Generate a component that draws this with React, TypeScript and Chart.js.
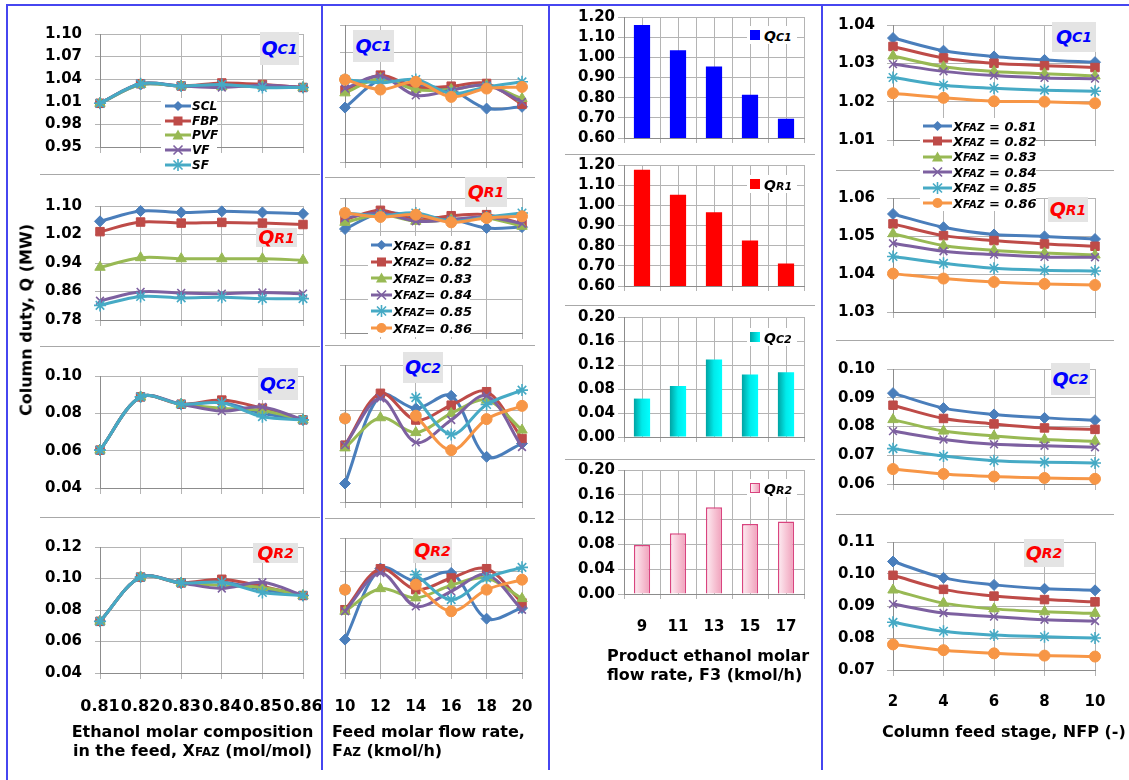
import React, { useEffect, useRef } from 'react';
import { Chart, registerables } from 'chart.js';
Chart.register(...registerables);

const FONT = '"DejaVu Sans", "Liberation Sans", sans-serif';
const GRID = '#b4b4b4';
const AXIS = '#8c8c8c';

// ---------- categories ----------
const xfazLabels = ['0.81', '0.82', '0.83', '0.84', '0.85', '0.86'];
const fazLabels = ['10', '12', '14', '16', '18', '20'];
const f3Labels = ['9', '11', '13', '15', '17'];
const nfpLabels = ['2', '4', '6', '8', '10'];

const methodNames = ['SCL', 'FBP', 'PVF', 'VF', 'SF'];
const xfazNames = ['0.81', '0.82', '0.83', '0.84', '0.85', '0.86'];

// ---------- column 1 : vs feed composition (SCL, FBP, PVF, VF, SF) ----------
const xfazQC1 = [
  [1.008, 1.033, 1.031, 1.032, 1.031, 1.029],
  [1.008, 1.034, 1.031, 1.035, 1.033, 1.029],
  [1.008, 1.033, 1.031, 1.030, 1.031, 1.029],
  [1.008, 1.034, 1.031, 1.029, 1.032, 1.029],
  [1.008, 1.034, 1.031, 1.033, 1.029, 1.029],
];
const xfazQR1 = [
  [1.057, 1.086, 1.082, 1.085, 1.082, 1.078],
  [1.028, 1.055, 1.052, 1.054, 1.052, 1.048],
  [0.928, 0.955, 0.952, 0.952, 0.952, 0.948],
  [0.834, 0.859, 0.856, 0.854, 0.857, 0.854],
  [0.821, 0.846, 0.842, 0.844, 0.840, 0.840],
];
const xfazQC2 = [
  [0.0603, 0.0888, 0.0849, 0.0858, 0.0800, 0.0765],
  [0.0603, 0.0888, 0.0849, 0.0871, 0.0827, 0.0765],
  [0.0603, 0.0888, 0.0849, 0.0827, 0.0815, 0.0765],
  [0.0603, 0.0888, 0.0849, 0.0812, 0.0834, 0.0765],
  [0.0603, 0.0888, 0.0849, 0.0856, 0.0782, 0.0765],
];
const xfazQR2 = [
  [0.0728, 0.1009, 0.0972, 0.0978, 0.0930, 0.0892],
  [0.0728, 0.1009, 0.0972, 0.0995, 0.0950, 0.0892],
  [0.0728, 0.1009, 0.0972, 0.0956, 0.0943, 0.0892],
  [0.0728, 0.1009, 0.0972, 0.0937, 0.0976, 0.0892],
  [0.0728, 0.1009, 0.0972, 0.0976, 0.0911, 0.0892],
];

// ---------- column 2 : vs feed flow rate (XFAZ = 0.81 ... 0.86) ----------
const fazQC1 = [
  [1.0096, 1.0396, 1.034, 1.029, 1.0085, 1.0104],
  [1.0286, 1.0451, 1.0316, 1.033, 1.036, 1.0133],
  [1.0257, 1.0414, 1.0293, 1.0293, 1.034, 1.0195],
  [1.0305, 1.044, 1.023, 1.0286, 1.034, 1.0158],
  [1.0403, 1.0367, 1.0403, 1.0249, 1.0322, 1.0378],
  [1.0403, 1.0293, 1.0378, 1.0213, 1.0304, 1.0322],
];
const fazQR1 = [
  [1.0265, 1.0645, 1.0566, 1.050, 1.0289, 1.031],
  [1.0487, 1.0708, 1.0487, 1.058, 1.0605, 1.039],
  [1.0423, 1.0605, 1.045, 1.0487, 1.0526, 1.033],
  [1.0526, 1.0645, 1.045, 1.0487, 1.055, 1.039],
  [1.0645, 1.058, 1.0645, 1.045, 1.055, 1.0645],
  [1.0645, 1.055, 1.0605, 1.0423, 1.0526, 1.0566],
];
const fazQC2 = [
  [0.0481, 0.0868, 0.0810, 0.0865, 0.0598, 0.0656],
  [0.0649, 0.0876, 0.0759, 0.0824, 0.0883, 0.0678],
  [0.0637, 0.0769, 0.0704, 0.0788, 0.0846, 0.0715],
  [0.0649, 0.0854, 0.0661, 0.0759, 0.0865, 0.0641],
  [0.0766, null, 0.0857, 0.0696, 0.0827, 0.0890],
  [0.0766, null, 0.0778, 0.0627, 0.0763, 0.0821],
];
const fazQR2 = [
  [0.0598, 0.1019, 0.0943, 0.0993, 0.0722, 0.0785],
  [0.0775, 0.1018, 0.0894, 0.0963, 0.1018, 0.0815],
  [0.0766, 0.0900, 0.0845, 0.0920, 0.0963, 0.0841],
  [0.0766, 0.0993, 0.0795, 0.0884, 0.0983, 0.0775],
  [0.0894, null, 0.0983, 0.0835, 0.0963, 0.1026],
  [0.0894, null, 0.0924, 0.0766, 0.0894, 0.0953],
];

// ---------- column 3 : vs product flow rate (bars) ----------
const f3QC1 = [1.16, 1.035, 0.955, 0.814, 0.696];
const f3QR1 = [1.176, 1.053, 0.966, 0.826, 0.712];
const f3QC2 = [0.064, 0.085, 0.129, 0.104, 0.108];
const f3QR2 = [0.079, 0.098, 0.140, 0.113, 0.117];

// ---------- column 4 : vs feed stage (XFAZ = 0.81 ... 0.86) ----------
const nfpQC1 = [
  [1.0366, 1.0333, 1.0318, 1.0309, 1.0303],
  [1.0344, 1.0314, 1.0300, 1.0294, 1.0289],
  [1.0319, 1.0291, 1.0279, 1.0273, 1.0267],
  [1.0298, 1.0279, 1.0268, 1.0262, 1.0260],
  [1.0263, 1.0243, 1.0235, 1.0230, 1.0227],
  [1.0222, 1.0210, 1.0201, 1.0200, 1.0196],
];
const nfpQR1 = [
  [1.0558, 1.0523, 1.0504, 1.0499, 1.0492],
  [1.0532, 1.0501, 1.0488, 1.0479, 1.0473],
  [1.0506, 1.0475, 1.0462, 1.0455, 1.0450],
  [1.0481, 1.0460, 1.0451, 1.0445, 1.0444],
  [1.0446, 1.0428, 1.0415, 1.0410, 1.0408],
  [1.0401, 1.0388, 1.0379, 1.0374, 1.0371],
];
const nfpQC2 = [
  [0.0916, 0.0864, 0.0842, 0.0830, 0.0822],
  [0.0874, 0.0828, 0.0809, 0.0795, 0.0790],
  [0.0824, 0.0784, 0.0767, 0.0755, 0.0749],
  [0.0784, 0.0755, 0.0738, 0.0733, 0.0728],
  [0.0723, 0.0697, 0.0681, 0.0676, 0.0673],
  [0.0652, 0.0635, 0.0626, 0.0621, 0.0618],
];
const nfpQR2 = [
  [0.1039, 0.0988, 0.0966, 0.0954, 0.0949],
  [0.0996, 0.0952, 0.0931, 0.0920, 0.0913],
  [0.0950, 0.0909, 0.0891, 0.0882, 0.0877],
  [0.0906, 0.0878, 0.0867, 0.0857, 0.0853],
  [0.0849, 0.0821, 0.0809, 0.0804, 0.0800],
  [0.0780, 0.0762, 0.0752, 0.0745, 0.0742],
];

// ---------- styles ----------
const seriesColors = ['#4a7ebb', '#be4b48', '#98b954', '#7d60a0', '#46aac5', '#f79646'];
const seriesMarkers = ['rectRot', 'rect', 'triangle', 'crossRot', 'star', 'circle'];
const markerRadius = [5.5, 6, 6, 5.5, 6, 5.5];

type Num = number | null;
type Box = [number, number, number, number];

const tickFont = (size: number) => ({ family: FONT, size, weight: 'bold' as const });

function makeDatasets(series: Num[][]) {
  return series.map((d, i) => ({
    data: d,
    borderColor: seriesColors[i],
    backgroundColor: seriesColors[i],
    pointBackgroundColor: seriesColors[i],
    pointBorderColor: seriesColors[i],
    pointStyle: seriesMarkers[i],
    pointRadius: markerRadius[i],
    pointBorderWidth: i === 3 || i === 4 ? 1.6 : 1,
    borderWidth: 3,
    tension: 0.33,
    spanGaps: false,
    clip: false,
    order: -i,
  }));
}

const YW = 80;
const PT = 12;
const PR = 60;

function LinePanel(props: {
  box: Box;
  labels: string[];
  series: Num[][];
  yMin: number;
  yMax: number;
  step: number;
  showY: boolean;
  showX: boolean;
  yPad: number;
  yLen: number;
  xPad?: number;
  xFont?: number;
}) {
  const ref = useRef<HTMLCanvasElement>(null);
  const [l, t, r, b] = props.box;
  const XH = props.showX ? 60 : 8;
  const width = YW + (r - l) + PR;
  const height = PT + (b - t) + XH;
  useEffect(() => {
    const chart = new Chart(ref.current as HTMLCanvasElement, {
      type: 'line',
      data: { labels: props.labels, datasets: makeDatasets(props.series) as any },
      options: {
        responsive: false,
        animation: false,
        layout: { padding: { top: PT, right: PR, left: 0, bottom: 0 } },
        plugins: { legend: { display: false }, tooltip: { enabled: false } },
        scales: {
          x: {
            type: 'category',
            offset: false,
            grid: { color: GRID, tickLength: 6, drawTicks: true },
            border: { color: AXIS },
            ticks: {
              display: props.showX,
              font: tickFont(props.xFont || 15),
              color: '#000',
              padding: props.xPad || 17,
              maxRotation: 0,
              minRotation: 0,
              autoSkip: false,
            },
            afterFit: (s: any) => {
              s.height = XH;
            },
          },
          y: {
            min: props.yMin,
            max: props.yMax,
            grid: { color: GRID, tickLength: props.yLen },
            border: { color: AXIS },
            ticks: {
              stepSize: props.step,
              display: props.showY,
              font: tickFont(15),
              color: '#000',
              padding: props.yPad,
              autoSkip: false,
              callback: (v: any) => Number(v).toFixed(2),
            },
            afterFit: (s: any) => {
              s.width = YW;
            },
          },
        },
      } as any,
    });
    return () => chart.destroy();
  }, []);
  return (
    <canvas
      ref={ref}
      width={width}
      height={height}
      style={{ position: 'absolute', left: l - YW, top: t - PT, width, height }}
    />
  );
}

function BarPanel(props: {
  box: Box;
  labels: string[];
  values: number[];
  yMin: number;
  yMax: number;
  step: number;
  showX: boolean;
  fill: string | string[];
  border?: string;
}) {
  const ref = useRef<HTMLCanvasElement>(null);
  const [l, t, r, b] = props.box;
  const XH = props.showX ? 60 : 8;
  const width = YW + (r - l) + PR;
  const height = PT + (b - t) + XH;
  useEffect(() => {
    const fill = props.fill;
    const bg = (c: any) => {
      if (typeof fill === 'string') return fill;
      const chart = c.chart;
      const xs = chart.scales && chart.scales.x;
      if (!xs || c.dataIndex === undefined || !chart.chartArea) return fill[fill.length - 1];
      const cx = xs.getPixelForValue(c.dataIndex);
      const w = (xs.width / props.labels.length) * 0.45;
      const g = chart.ctx.createLinearGradient(cx - w / 2, 0, cx + w / 2, 0);
      fill.forEach((col, i) => g.addColorStop(i / (fill.length - 1), col));
      return g;
    };
    const chart = new Chart(ref.current as HTMLCanvasElement, {
      type: 'bar',
      data: {
        labels: props.labels,
        datasets: [
          {
            data: props.values,
            backgroundColor: bg,
            borderColor: props.border || 'transparent',
            borderWidth: props.border ? 1.5 : 0,
            barPercentage: 0.45,
            categoryPercentage: 1,
          },
        ],
      },
      options: {
        responsive: false,
        animation: false,
        layout: { padding: { top: PT, right: PR, left: 0, bottom: 0 } },
        plugins: { legend: { display: false }, tooltip: { enabled: false } },
        scales: {
          x: {
            type: 'category',
            offset: true,
            grid: { offset: true, color: GRID, tickLength: 5 },
            border: { color: AXIS },
            ticks: {
              display: props.showX,
              font: tickFont(15),
              color: '#000',
              padding: 19,
              maxRotation: 0,
              autoSkip: false,
            },
            afterFit: (s: any) => {
              s.height = XH;
            },
          },
          x2: {
            type: 'category',
            position: 'bottom',
            offset: true,
            grid: { offset: false, color: GRID, drawTicks: false },
            border: { display: false },
            ticks: { display: false },
            afterFit: (s: any) => {
              s.height = 0;
            },
          },
          y: {
            min: props.yMin,
            max: props.yMax,
            grid: { color: GRID, tickLength: 6 },
            border: { color: AXIS },
            ticks: {
              stepSize: props.step,
              font: tickFont(15),
              color: '#000',
              padding: 3,
              autoSkip: false,
              callback: (v: any) => Number(v).toFixed(2),
            },
            afterFit: (s: any) => {
              s.width = YW;
            },
          },
        },
      } as any,
    });
    return () => chart.destroy();
  }, []);
  return (
    <canvas
      ref={ref}
      width={width}
      height={height}
      style={{ position: 'absolute', left: l - YW, top: t - PT, width, height }}
    />
  );
}

// ---------- overlays ----------
function QLabel(p: { x: number; y: number; w: number; h: number; sub: string; color: string }) {
  return (
    <div
      style={{
        position: 'absolute',
        left: p.x,
        top: p.y,
        width: p.w,
        height: p.h,
        background: '#e4e4e4',
        display: 'flex',
        alignItems: 'center',
        justifyContent: 'center',
        fontFamily: FONT,
        fontStyle: 'italic',
        fontWeight: 'bold',
        color: p.color,
        lineHeight: 1,
        whiteSpace: 'nowrap',
      }}
    >
      <span style={{ fontSize: 19 }}>Q</span>
      <span style={{ fontSize: 14 }}>{p.sub}</span>
    </div>
  );
}

function MarkerSvg({ kind, color, len }: { kind: string; color: string; len: number }) {
  const c = len / 2;
  const cy = 7;
  let m: any;
  switch (kind) {
    case 'rectRot':
      m = <polygon points={`${c},${cy - 5} ${c + 5},${cy} ${c},${cy + 5} ${c - 5},${cy}`} fill={color} />;
      break;
    case 'rect':
      m = <rect x={c - 4.5} y={cy - 4.5} width={9} height={9} fill={color} />;
      break;
    case 'triangle':
      m = <polygon points={`${c},${cy - 5.5} ${c + 5.5},${cy + 4.5} ${c - 5.5},${cy + 4.5}`} fill={color} />;
      break;
    case 'crossRot':
      m = (
        <g stroke={color} strokeWidth={1.6}>
          <line x1={c - 4.5} y1={cy - 4.5} x2={c + 4.5} y2={cy + 4.5} />
          <line x1={c - 4.5} y1={cy + 4.5} x2={c + 4.5} y2={cy - 4.5} />
        </g>
      );
      break;
    case 'star':
      m = (
        <g stroke={color} strokeWidth={1.6}>
          <line x1={c - 4.5} y1={cy - 4.5} x2={c + 4.5} y2={cy + 4.5} />
          <line x1={c - 4.5} y1={cy + 4.5} x2={c + 4.5} y2={cy - 4.5} />
          <line x1={c} y1={cy - 6} x2={c} y2={cy + 6} />
        </g>
      );
      break;
    default:
      m = <circle cx={c} cy={cy} r={5} fill={color} />;
  }
  return (
    <svg width={len} height={14} style={{ display: 'block', overflow: 'visible' }}>
      <line x1={0} y1={cy} x2={len} y2={cy} stroke={color} strokeWidth={3} />
      {m}
    </svg>
  );
}

function LineLegend(p: {
  x: number;
  y: number;
  spacing: number;
  len: number;
  items: any[];
  fontSize: number;
  bg: Box;
}) {
  return (
    <>
      <div
        style={{
          position: 'absolute',
          left: p.bg[0],
          top: p.bg[1],
          width: p.bg[2] - p.bg[0],
          height: p.bg[3] - p.bg[1],
          background: '#fff',
        }}
      />
      {p.items.map((it, i) => (
        <div
          key={i}
          style={{
            position: 'absolute',
            left: p.x,
            top: p.y + i * p.spacing - 7,
            height: 14,
            display: 'flex',
            alignItems: 'center',
            whiteSpace: 'nowrap',
          }}
        >
          <MarkerSvg kind={seriesMarkers[i]} color={seriesColors[i]} len={p.len} />
          <span
            style={{
              fontFamily: FONT,
              fontStyle: 'italic',
              fontWeight: 'bold',
              fontSize: p.fontSize,
              color: '#000',
              marginLeft: 1,
              lineHeight: 1,
            }}
          >
            {it}
          </span>
        </div>
      ))}
    </>
  );
}

function BarLegend(p: { x: number; y: number; swatch: string; border?: string; sub: string }) {
  return (
    <div
      style={{
        position: 'absolute',
        left: p.x - 3,
        top: p.y - 9,
        height: 18,
        width: 50,
        background: '#fff',
        display: 'flex',
        alignItems: 'center',
        whiteSpace: 'nowrap',
      }}
    >
      <div
        style={{
          width: 10,
          height: 10,
          marginLeft: 3,
          background: p.swatch,
          boxSizing: 'border-box',
          border: p.border ? `1px solid ${p.border}` : 'none',
        }}
      />
      <span style={{ fontFamily: FONT, fontStyle: 'italic', fontWeight: 'bold', marginLeft: 4, color: '#000' }}>
        <span style={{ fontSize: 14 }}>Q</span>
        <span style={{ fontSize: 11 }}>{p.sub}</span>
      </span>
    </div>
  );
}

function HLine({ x1, x2, y, color, w }: { x1: number; x2: number; y: number; color: string; w: number }) {
  return <div style={{ position: 'absolute', left: x1, top: y, width: x2 - x1, height: w, background: color }} />;
}
function VLine({ x, y1, y2, color, w }: { x: number; y1: number; y2: number; color: string; w: number }) {
  return <div style={{ position: 'absolute', left: x, top: y1, width: w, height: y2 - y1, background: color }} />;
}

const title: any = {
  position: 'absolute',
  fontFamily: FONT,
  fontWeight: 'bold',
  fontSize: 16,
  lineHeight: '19px',
  color: '#000',
  whiteSpace: 'nowrap',
};

const BLUE = '#4646f0';
const SEP = '#a8a8a8';

const C1: [number, number] = [100, 303];
const C2: [number, number] = [345, 522];
const C3: [number, number] = [624, 804];
const C4: [number, number] = [893, 1095];

export default function App() {
  const cyanGrad = ['#00a3a3', '#00eaea', '#00ffff'];
  const pinkGrad = ['#fdeef3', '#f7c6d6', '#f09fba'];
  return (
    <div
      style={{
        position: 'absolute',
        left: 0,
        top: 0,
        width: 1129,
        height: 780,
        background: '#fff',
        overflow: 'hidden',
      }}
    >
      {/* separators */}
      <HLine x1={40} x2={320} y={174} color={SEP} w={1} />
      <HLine x1={40} x2={320} y={346} color={SEP} w={1} />
      <HLine x1={40} x2={320} y={517} color={SEP} w={1} />
      <HLine x1={325} x2={535} y={177} color={SEP} w={1} />
      <HLine x1={325} x2={535} y={345} color={SEP} w={1} />
      <HLine x1={325} x2={535} y={518} color={SEP} w={1} />
      <HLine x1={565} x2={815} y={154} color={SEP} w={1} />
      <HLine x1={565} x2={815} y={305} color={SEP} w={1} />
      <HLine x1={565} x2={815} y={459} color={SEP} w={1} />
      <HLine x1={836} x2={1114} y={170} color={SEP} w={1} />
      <HLine x1={836} x2={1114} y={340} color={SEP} w={1} />
      <HLine x1={836} x2={1114} y={514} color={SEP} w={1} />

      {/* column 1 */}
      <LinePanel box={[C1[0], 24, C1[1], 161]} labels={xfazLabels} series={xfazQC1} yMin={0.95} yMax={1.1} step={0.03} showY showX={false} yPad={13} yLen={5} />
      <LinePanel box={[C1[0], 196, C1[1], 334]} labels={xfazLabels} series={xfazQR1} yMin={0.78} yMax={1.1} step={0.08} showY showX={false} yPad={13} yLen={5} />
      <LinePanel box={[C1[0], 366, C1[1], 502]} labels={xfazLabels} series={xfazQC2} yMin={0.04} yMax={0.1} step={0.02} showY showX={false} yPad={13} yLen={5} />
      <LinePanel box={[C1[0], 537, C1[1], 673]} labels={xfazLabels} series={xfazQR2} yMin={0.04} yMax={0.12} step={0.02} showY showX yPad={13} yLen={5} xPad={18} xFont={16} />

      {/* column 2 */}
      <LinePanel box={[C2[0], 25, C2[1], 162]} labels={fazLabels} series={fazQC1} yMin={0.95} yMax={1.1} step={0.03} showY={false} showX={false} yPad={13} yLen={5} />
      <LinePanel box={[C2[0], 198, C2[1], 333]} labels={fazLabels} series={fazQR1} yMin={0.78} yMax={1.1} step={0.08} showY={false} showX={false} yPad={13} yLen={5} />
      <LinePanel box={[C2[0], 365, C2[1], 502]} labels={fazLabels} series={fazQC2} yMin={0.04} yMax={0.1} step={0.02} showY={false} showX={false} yPad={13} yLen={5} />
      <LinePanel box={[C2[0], 538, C2[1], 673]} labels={fazLabels} series={fazQR2} yMin={0.04} yMax={0.12} step={0.02} showY={false} showX yPad={13} yLen={5} xPad={19} />

      {/* column 3 */}
      <BarPanel box={[C3[0], 17, C3[1], 142]} labels={f3Labels} values={f3QC1} yMin={0.6} yMax={1.2} step={0.1} showX={false} fill="#0000ff" />
      <BarPanel box={[C3[0], 165, C3[1], 290]} labels={f3Labels} values={f3QR1} yMin={0.6} yMax={1.2} step={0.1} showX={false} fill="#ff0000" />
      <BarPanel box={[C3[0], 317, C3[1], 441]} labels={f3Labels} values={f3QC2} yMin={0} yMax={0.2} step={0.04} showX={false} fill={cyanGrad} />
      <BarPanel box={[C3[0], 470, C3[1], 594]} labels={f3Labels} values={f3QR2} yMin={0} yMax={0.2} step={0.04} showX fill={pinkGrad} border="#d9447f" />

      {/* column 4 */}
      <LinePanel box={[C4[0], 16, C4[1], 153]} labels={nfpLabels} series={nfpQC1} yMin={1.01} yMax={1.04} step={0.01} showY showX={false} yPad={12} yLen={6} />
      <LinePanel box={[C4[0], 189, C4[1], 325]} labels={nfpLabels} series={nfpQR1} yMin={1.03} yMax={1.06} step={0.01} showY showX={false} yPad={12} yLen={6} />
      <LinePanel box={[C4[0], 360, C4[1], 497]} labels={nfpLabels} series={nfpQC2} yMin={0.06} yMax={0.1} step={0.01} showY showX={false} yPad={12} yLen={6} />
      <LinePanel box={[C4[0], 533, C4[1], 670]} labels={nfpLabels} series={nfpQR2} yMin={0.07} yMax={0.11} step={0.01} showY showX yPad={12} yLen={6} xPad={17} />

      {/* legends */}
      <LineLegend x={165} y={106} spacing={14.7} len={26} items={methodNames} fontSize={12} bg={[161, 98, 217, 172]} />
      <LineLegend
        x={371}
        y={245}
        spacing={16.6}
        len={21}
        items={xfazNames.map((v) => (
          <span>
            X<span style={{ fontSize: 10.5 }}>FAZ</span>= {v}
          </span>
        ))}
        fontSize={13}
        bg={[368, 236, 470, 337]}
      />
      <LineLegend
        x={923}
        y={126}
        spacing={15.4}
        len={29}
        items={xfazNames.map((v) => (
          <span>
            X<span style={{ fontSize: 10.5 }}>FAZ</span> = {v}
          </span>
        ))}
        fontSize={13}
        bg={[920, 118, 1036, 211]}
      />
      <BarLegend x={750} y={35} swatch="#0000ff" sub="C1" />
      <BarLegend x={750} y={184} swatch="#ff0000" sub="R1" />
      <BarLegend x={750} y={337} swatch="linear-gradient(90deg,#00a3a3,#00ffff)" sub="C2" />
      <BarLegend x={750} y={488} swatch="linear-gradient(90deg,#fdeef3,#f09fba)" border="#d9447f" sub="R2" />

      {/* Q labels */}
      <QLabel x={260} y={32} w={39} h={33} sub="C1" color="#0000ff" />
      <QLabel x={256} y={228} w={41} h={19} sub="R1" color="#ff0000" />
      <QLabel x={258} y={368} w={40} h={32} sub="C2" color="#0000ff" />
      <QLabel x={253} y={543} w={45} h={20} sub="R2" color="#ff0000" />
      <QLabel x={353} y={30} w={41} h={32} sub="C1" color="#0000ff" />
      <QLabel x={465} y={177} w={42} h={30} sub="R1" color="#ff0000" />
      <QLabel x={403} y={352} w={40} h={31} sub="C2" color="#0000ff" />
      <QLabel x={413} y={538} w={39} h={25} sub="R2" color="#ff0000" />
      <QLabel x={1052} y={22} w={44} h={30} sub="C1" color="#0000ff" />
      <QLabel x={1048} y={197} w={40} h={25} sub="R1" color="#ff0000" />
      <QLabel x={1051} y={363} w={39} h={32} sub="C2" color="#0000ff" />
      <QLabel x={1024} y={539} w={40} h={28} sub="R2" color="#ff0000" />

      {/* axis titles */}
      <div
        style={{
          ...title,
          left: 26,
          top: 320,
          transform: 'translate(-50%, -50%) rotate(-90deg)',
        }}
      >
        Column duty, Q (MW)
      </div>
      <div style={{ ...title, left: 60, width: 265, top: 722, textAlign: 'center' }}>
        Ethanol molar composition
        <br />
        in the feed, X<span style={{ fontSize: 12 }}>FAZ</span> (mol/mol)
      </div>
      <div style={{ ...title, left: 332, top: 722 }}>
        Feed molar flow rate,
        <br />
        F<span style={{ fontSize: 12 }}>AZ</span> (kmol/h)
      </div>
      <div style={{ ...title, left: 607, top: 647, lineHeight: '18.5px' }}>
        Product ethanol molar
        <br />
        flow rate, F3 (kmol/h)
      </div>
      <div style={{ ...title, left: 882, width: 240, top: 722, textAlign: 'center' }}>Column feed stage, NFP (-)</div>

      {/* page frame lines */}
      <HLine x1={6} x2={1129} y={4} color={BLUE} w={2} />
      <VLine x={6} y1={4} y2={780} color={BLUE} w={2} />
      <VLine x={321} y1={4} y2={770} color={BLUE} w={2} />
      <VLine x={548} y1={4} y2={770} color={BLUE} w={2} />
      <VLine x={821} y1={4} y2={770} color={BLUE} w={2} />
    </div>
  );
}
